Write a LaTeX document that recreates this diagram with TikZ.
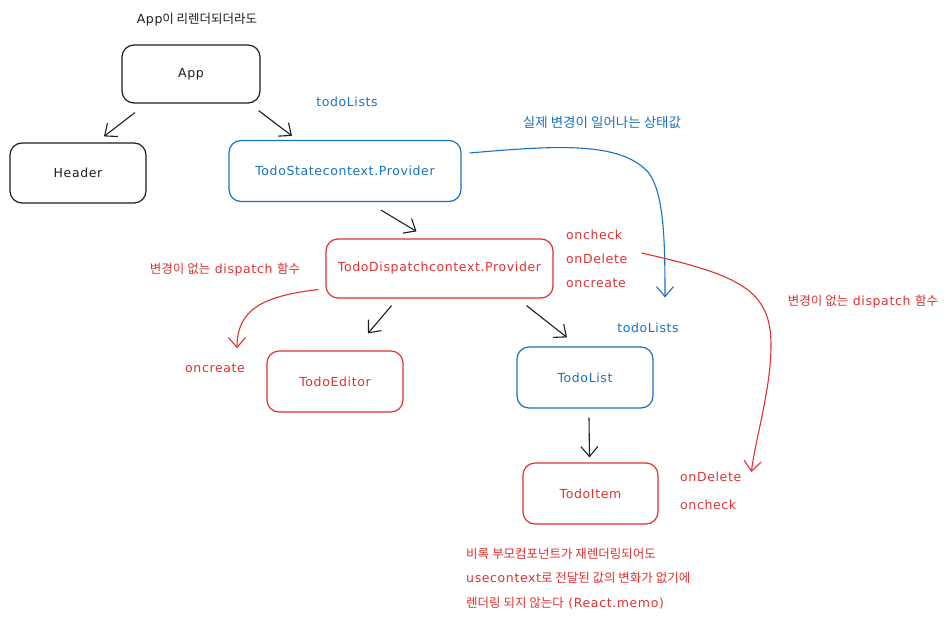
\documentclass[tikz,border=0pt]{standalone}
\usepackage{fontspec}
\setmainfont{DejaVu Sans}[LetterSpace=5]
\newfontfamily\kr{Noto Sans CJK KR}
\newcommand\ko[1]{{\kr #1}}
\usetikzlibrary{arrows.meta}
\definecolor{exblue}{HTML}{1971C2}
\definecolor{exred}{HTML}{E03131}
\definecolor{exblack}{HTML}{1E1E1E}
\tikzset{
  box/.style={draw, rounded corners=12pt, line width=1.2pt, minimum width=136pt, minimum height=60pt, inner sep=0pt, font=\fontsize{12.5}{14}\selectfont},
  bbox/.style={box, draw=exblack, text=exblack},
  bluebox/.style={box, draw=exblue, text=exblue},
  redbox/.style={box, draw=exred, text=exred},
  lbl/.style={inner sep=0pt, font=\fontsize{12.5}{14}\selectfont},
  arr/.style={line width=1.1pt, -{Straight Barb[length=10pt,width=17pt]}},
}
\begin{document}
\begin{tikzpicture}[x=1pt,y=-1pt]
\useasboundingbox[fill=white] (0,0) rectangle (951,624);
% boxes
\node[bbox] (app) at (191,74) [minimum width=138pt, minimum height=58pt] {App};
\node[bbox] (header) at (78,173) {Header};
\node[bluebox] (state) at (345,171) [minimum width=232pt, minimum height=61pt] {TodoStatecontext.Provider};
\node[redbox] (dispatch) at (439.5,268.5) [minimum width=227pt, minimum height=59pt] {TodoDispatchcontext.Provider};
\node[redbox] (editor) at (335,381.5) [minimum height=61pt] {TodoEditor};
\node[bluebox] (list) at (585,377.5) [minimum height=61pt] {TodoList};
\node[redbox] (item) at (590.5,493.5) [minimum width=135pt, minimum height=61pt] {TodoItem};
% labels
\node[lbl, text=exblack] (appnote) at (197,20) {App\ko{이 리렌더되더라도}};
\node[lbl, text=exblue] (todo1) at (347,102) {todoLists};
\node[lbl, text=exblue] (realstate) at (602,122) {{\kr\fontsize{13.5}{15}\selectfont 실제 변경이 일어나는 상태값}};
\node[lbl, text=exred, anchor=west] (oncheckA) at (566,235) {oncheck};
\node[lbl, text=exred, anchor=west] (ondeleteA) at (566,259) {onDelete};
\node[lbl, text=exred, anchor=west] (oncreateA) at (566,283) {oncreate};
\node[lbl, text=exred] (nochangeL) at (225,270) {\ko{변경이 없는} dispatch \ko{함수}};
\node[lbl, text=exred] (oncreateB) at (215,368) {oncreate};
\node[lbl, text=exblue] (todo2) at (648,328) {todoLists};
\node[lbl, text=exred] (nochangeR) at (863,302) {\ko{변경이 없는} dispatch \ko{함수}};
\node[lbl, text=exred, anchor=west] (ondeleteB) at (680,477) {onDelete};
\node[lbl, text=exred, anchor=west] (oncheckB) at (680,505) {oncheck};
\node[lbl, text=exred, anchor=west] (note1) at (466,554) {\ko{비록 부모컴포넌트가 재렌더링되어도}};
\node[lbl, text=exred, anchor=west] (note2) at (466,578) {usecontext\ko{로 전달된 값의 변화가 없기에}};
\node[lbl, text=exred, anchor=west] (note3) at (466,603) {\ko{렌더링 되지 않는다} (React.memo)};
% black arrows
\draw[arr, exblack] ([xshift=-56pt,yshift=-9pt]app.south) -- ([xshift=26pt,yshift=6pt]header.north);
\draw[arr, exblack] ([xshift=-2pt,yshift=-7pt]app.south east) -- ([xshift=-53pt,yshift=4pt]state.north);
\draw[arr, exblack] ([xshift=36pt,yshift=-8pt]state.south) -- ([xshift=-23pt,yshift=7pt]dispatch.north);
\draw[arr, exblack] ([xshift=-48pt,yshift=-7pt]dispatch.south) -- ([xshift=33pt,yshift=17pt]editor.north);
\draw[arr, exblack] ([xshift=87pt,yshift=-7pt]dispatch.south) -- ([xshift=-18pt,yshift=9pt]list.north);
\draw[arr, exblack] ([xshift=4pt,yshift=-9pt]list.south) -- ([xshift=-1pt,yshift=5pt]item.north);
% blue curve
\draw[arr, exblue] ([xshift=8pt,yshift=18pt]state.east) .. controls (560,145) and (620,142) .. (648,172) .. controls (664,192) and (665,240) .. ([xshift=80pt,yshift=49pt]list.north);
% red curves
\draw[arr, exred] ([xshift=-7pt,yshift=-21pt]dispatch.west) .. controls (262,296) and (237,310) .. ([xshift=22pt,yshift=15pt]oncreateB.north);
\draw[arr, exred] ([xshift=14pt,yshift=6pt]ondeleteA.east) .. controls (740,275) and (771,290) .. (771,345) .. controls (771,390) and (755,440) .. ([xshift=10pt,yshift=5pt]ondeleteB.east);
\end{tikzpicture}
\end{document}
